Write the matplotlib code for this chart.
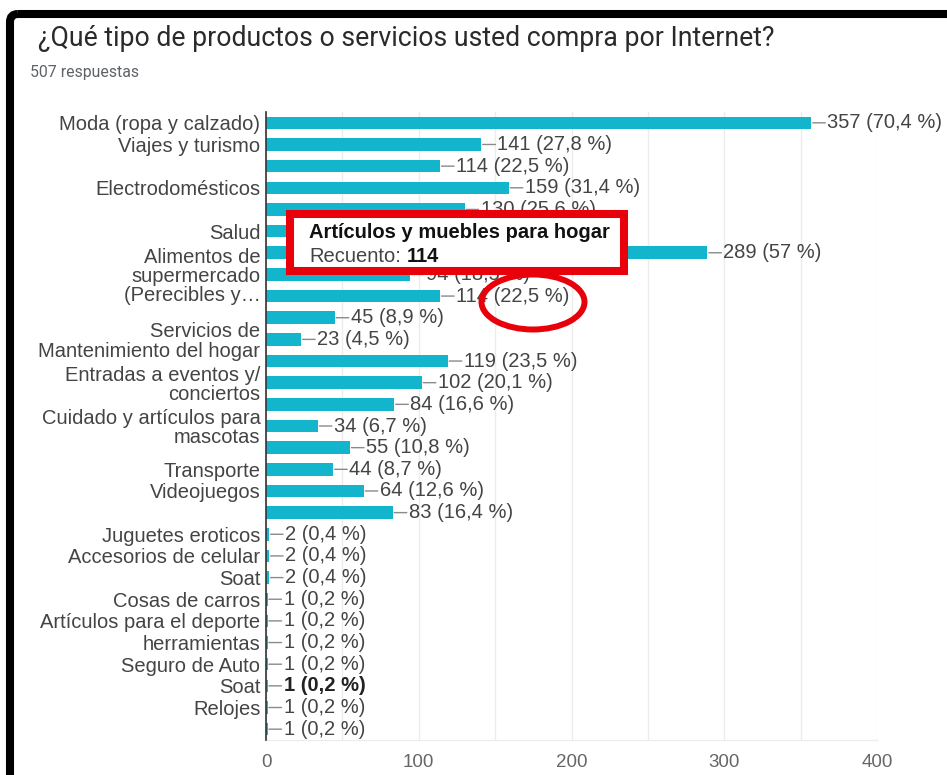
import matplotlib
matplotlib.use("Agg")
import matplotlib.pyplot as plt
from matplotlib.patches import Rectangle, Ellipse, FancyBboxPatch

plt.rcParams['font.family'] = ['Liberation Sans', 'DejaVu Sans']

total_respuestas = 507

etiquetas = [
    "Moda (ropa y calzado)", "Viajes y turismo", "", "Electrodomésticos", "",
    "Salud", "", "Alimentos de\nsupermercado\n(Perecibles y…", "", "",
    "Servicios de\nMantenimiento del hogar", "", "Entradas a eventos y/\nconciertos", "",
    "Cuidado y artículos para\nmascotas", "", "Transporte", "Videojuegos", "",
    "Juguetes eroticos", "Accesorios de celular", "Soat", "Cosas de carros",
    "Artículos para el deporte", "herramientas", "Seguro de Auto", "Soat", "Relojes", "",
]
recuentos = [357, 141, 114, 159, 130, 110, 289, 94, 114, 45, 23, 119, 102, 84, 34,
             55, 44, 64, 83, 2, 2, 2, 1, 1, 1, 1, 1, 1, 1]
fila_resaltada = 26

ticks_x = [0, 100, 200, 300, 400]

W, H = 947, 775
fig = plt.figure(figsize=(W / 100, H / 100), dpi=100)
fig.patch.set_facecolor("white")

ax = fig.add_axes([266 / W, 1 - 740 / H, (877 - 266) / W, (740 - 112) / H])
n = len(recuentos)
filas = list(range(n))
ax.barh(filas, recuentos, height=0.58, color="#12b5cb", zorder=2)
ax.set_ylim(n - 0.5, -0.5)
ax.set_xlim(0, 400)

ax.set_xticks(ticks_x)
ax.set_xticklabels([str(t) for t in ticks_x], fontsize=13.5, color="#666")
ax.set_xticks(range(50, 401, 50), minor=True)
ax.grid(axis="x", which="both", color="#ececec", lw=1, zorder=0)
ax.set_yticks(filas)
ax.set_yticklabels(etiquetas, fontsize=14.5, color="#444", linespacing=1.02)
ax.tick_params(axis="both", which="both", length=0)
ax.tick_params(axis="y", pad=4)
ax.tick_params(axis="x", pad=10)
for s in ["top", "right"]:
    ax.spines[s].set_visible(False)
ax.spines["bottom"].set_color("#ececec")
ax.spines["left"].set_color("#333")
ax.spines["left"].set_linewidth(1.2)
ax.spines["left"].set_zorder(3)

for i, v in enumerate(recuentos):
    pct = round(v / total_respuestas * 100, 1)
    pct_txt = (f"{pct:.0f}" if pct == int(pct) else f"{pct:.1f}").replace(".", ",")
    bold = i == fila_resaltada
    # conector corto entre la barra y la etiqueta
    ax.annotate("", xy=(v, i), xytext=(14, 0), textcoords="offset pixels",
                arrowprops=dict(arrowstyle="-", color="#8a8a8a", lw=1, shrinkA=0, shrinkB=1),
                annotation_clip=False, zorder=4)
    ax.annotate(f"{v} ({pct_txt} %)", xy=(v, i), xytext=(16, 0), textcoords="offset pixels",
                ha="left", va="center", fontsize=14.5,
                color="#222" if bold else "#444", fontweight="bold" if bold else "normal",
                annotation_clip=False, zorder=4)

# capa superior: marco, titulo, tooltip y circulo
ov = fig.add_axes([0, 0, 1, 1], zorder=10)
ov.set_xlim(0, W)
ov.set_ylim(H, 0)
ov.axis("off")
ov.patch.set_alpha(0)

ov.add_patch(FancyBboxPatch((10, 14), 1000, 800, boxstyle="round,pad=0,rounding_size=8",
                            fc="none", ec="black", lw=5.8))
ov.text(38, 38, "¿Qué tipo de productos o servicios usted compra por Internet?",
        fontsize=19.2, family="Roboto", color="#2a2a2a", va="center", ha="left")
ov.text(30, 72, "507 respuestas", fontsize=11.4, family="Roboto", color="#5f6368",
        va="center", ha="left")

ov.add_patch(Rectangle((290, 214), 334, 57, fc="white", ec="#e8000b", lw=5.8))
ov.text(309, 233, "Artículos y muebles para hogar", fontsize=14.5, fontweight="bold",
        color="#111", va="center", ha="left")
ov.text(309, 256, "Recuento:", fontsize=14.5, color="#444", va="center", ha="left")
ov.text(407, 256, "114", fontsize=14.5, fontweight="bold", color="#111", va="center", ha="left")
ov.add_patch(Ellipse((533, 302), 103, 55, fc="none", ec="#e8000b", lw=4.3))

fig.savefig("out.png", dpi=100)
